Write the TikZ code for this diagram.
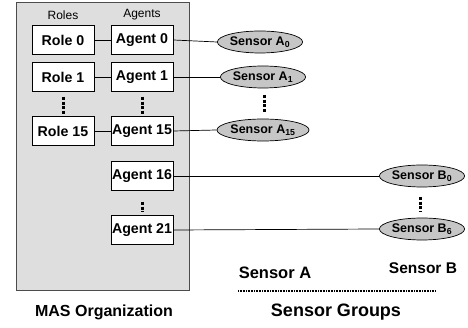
\documentclass[tikz,border=0pt]{standalone}
\usepackage{fontspec}
\setmainfont{Liberation Sans}
\usetikzlibrary{shapes.geometric}
\definecolor{panel}{HTML}{DEDEDE}
\definecolor{sens}{HTML}{C6C6C6}
\begin{document}
\begin{tikzpicture}[x=1pt,y=-1pt,
  box/.style={draw=black,fill=white,line width=0.8pt,minimum width=62pt,minimum height=29pt,inner sep=0pt,font=\fontsize{14.2}{16}\selectfont\bfseries},
  sensor/.style={ellipse,draw=black,fill=sens,line width=0.7pt,minimum width=77pt,minimum height=22pt,inner sep=0pt,font=\fontsize{12.5}{14}\selectfont\bfseries},
  link/.style={draw=black,line width=0.7pt},
  vdots/.style={draw=black,line width=3pt,dash pattern=on 3pt off 1.6pt},
  hdr/.style={font=\fontsize{12}{14}\selectfont},
  captext/.style={font=\fontsize{16}{18}\selectfont\bfseries}]
\useasboundingbox (0,0) rectangle (468,328);
\node[draw=black!70,line width=1.3pt,fill=panel,minimum width=173pt,minimum height=288pt,inner sep=0pt,anchor=north west] (mas) at (16,2) {};
\node[hdr] (roles) at (63,15) {Roles};
\node[hdr] (agents) at (142,15) {Agents};
\node[box] (r0) at (63,40) {Role 0};
\node[box] (r1) at (63,77) {Role 1};
\node[box] (r15) at (63,131) {Role 15};
\node[box] (a0) at (142,40) {Agent 0};
\node[box] (a1) at (142,77) {Agent 1};
\node[box] (a15) at (142,131) {Agent 15};
\node[box] (a16) at (142,176) {Agent 16};
\node[box] (a21) at (142,230) {Agent 21};
\coordinate (rd1) at (63,97); \coordinate (rd2) at (63,114);
\coordinate (ad1) at (142,97); \coordinate (ad2) at (142,114);
\coordinate (bd1) at (142,202); \coordinate (bd2) at (142,212);
\draw[vdots] (rd1) -- (rd2);
\draw[vdots] (ad1) -- (ad2);
\draw[vdots] (bd1) -- (bd2);
\node[sensor] (s0) at (260,42) {Sensor A\textsubscript{0}};
\node[sensor] (s1) at (263,77) {Sensor A\textsubscript{1}};
\node[sensor] (s15) at (263,130) {Sensor A\textsubscript{15}};
\node[sensor,minimum width=79pt] (b0) at (422,176) {Sensor B\textsubscript{0}};
\node[sensor,minimum width=79pt] (b6) at (422,229) {Sensor B\textsubscript{6}};
\coordinate (sd1) at (264,95); \coordinate (sd2) at (264,112);
\coordinate (sbd1) at (420,197); \coordinate (sbd2) at (420,212);
\draw[vdots] (sd1) -- (sd2);
\draw[vdots] (sbd1) -- (sbd2);
\draw[link] (r0) -- (a0);
\draw[link] (r1) -- (a1);
\draw[link] (r15) -- (a15);
\draw[link] (a0.east) -- (s0.west);
\draw[link] (a1.east) -- (s1.west);
\draw[link] (a15.east) -- (s15.west);
\draw[link] (a16.east) -- (b0.west);
\draw[link] (a21.east) -- (b6.west);
\node[captext] (masl) at (104,312) {MAS Organization};
\node[captext,font=\fontsize{16.5}{18}\selectfont\bfseries] (sal) at (275,273) {Sensor A};
\node[captext,font=\fontsize{15.5}{17}\selectfont\bfseries] (sbl) at (423,268) {Sensor B};
\coordinate (g1) at (238,291); \coordinate (g2) at (435,291);
\draw[black,line width=1.2pt,dash pattern=on 0.8pt off 0.8pt] (g1) -- (g2);
\node[captext,font=\fontsize{18}{20}\selectfont\bfseries] (sgl) at (336,312) {Sensor Groups};
\end{tikzpicture}
\end{document}
